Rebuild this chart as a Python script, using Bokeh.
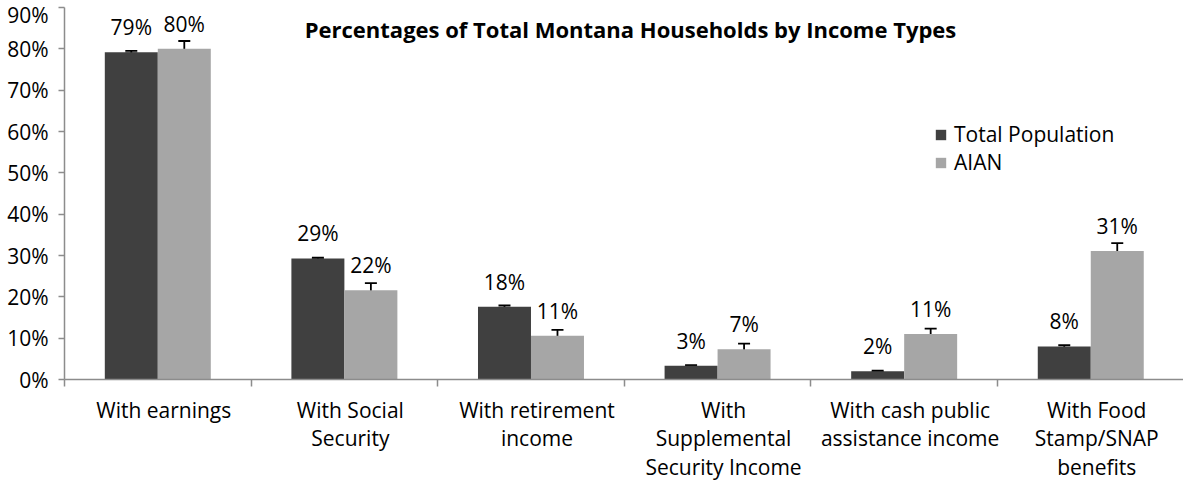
import numpy as np
from bokeh.plotting import figure
from bokeh.models import (ColumnDataSource, Range1d, FixedTicker, NumeralTickFormatter,
                          Whisker, TeeHead, Legend, LegendItem, Label, LinearAxis)
from bokeh.core.properties import value
from bokeh.embed import file_html
from bokeh.resources import INLINE

categories = ["With earnings", "With Social\nSecurity", "With retirement\nincome",
              "With\nSupplemental\nSecurity Income", "With cash public\nassistance income",
              "With Food\nStamp/SNAP\nbenefits"]
total_pop = [79.2, 29.3, 17.6, 3.3, 2.0, 8.0]
total_err = [0.3, 0.2, 0.3, 0.2, 0.15, 0.3]
aian = [80.0, 21.6, 10.6, 7.3, 11.0, 31.1]
aian_err = [1.9, 1.7, 1.4, 1.4, 1.3, 1.9]
y_ticks = [0, 10, 20, 30, 40, 50, 60, 70, 80, 90]

FONT = "Open Sans"
FS = "21px"
DARK = "#404040"
LIGHT = "#A6A6A6"
AXIS = "#8C8C8C"

n = len(categories)
centers = np.arange(n) + 0.5
bw = 0.284
XMAX = 5.997
LAB_SHIFT = 0.032  # category names sit a few px right of the group centre

def src(vals, errs, shift):
    v = np.array(vals) / 100.0
    e = np.array(errs) / 100.0
    return ColumnDataSource(dict(
        x=centers + shift, top=v, upper=v + e, lower=v - e,
        label=["%d%%" % int(round(a)) for a in vals]))

s_tot = src(total_pop, total_err, -bw / 2)
s_aian = src(aian, aian_err, bw / 2)

p = figure(width=1183, height=483, output_backend="svg", toolbar_location=None,
           x_range=Range1d(0, XMAX), y_range=Range1d(0, 0.9),
           min_border_left=64, min_border_right=0, min_border_top=7, min_border_bottom=104)
p.extra_x_ranges = {"lab": Range1d(-LAB_SHIFT, XMAX - LAB_SHIFT)}
p.outline_line_color = None
p.xgrid.visible = False
p.ygrid.visible = False
p.background_fill_color = "white"
p.border_fill_color = "white"

r1 = p.vbar(x="x", top="top", width=bw, source=s_tot, fill_color=DARK, line_color=None)
r2 = p.vbar(x="x", top="top", width=bw, source=s_aian, fill_color=LIGHT, line_color=None)

for s in (s_tot, s_aian):
    w = Whisker(base="x", upper="upper", lower="lower", source=s,
                line_color="black", line_width=1.8,
                upper_head=TeeHead(size=12, line_color="black", line_width=1.8),
                lower_head=TeeHead(size=12, line_color="black", line_width=1.8))
    p.add_layout(w)
    p.text(x="x", y="top", text="label", source=s, text_align="center",
           text_baseline="middle", y_offset=-25, text_font=value(FONT),
           text_font_size=FS, text_color="black")

# y axis
ya = p.yaxis[0]
ya.ticker = FixedTicker(ticks=[t / 100 for t in y_ticks], minor_ticks=[])
ya.formatter = NumeralTickFormatter(format="0%")
ya.axis_line_color = AXIS
ya.axis_line_width = 1.5
ya.major_tick_line_color = AXIS
ya.major_tick_line_width = 1.5
ya.major_tick_out = 6
ya.major_tick_in = 0
ya.minor_tick_line_color = None
ya.major_label_text_font = FONT
ya.major_label_text_font_size = FS
ya.major_label_text_color = "black"
ya.major_label_standoff = 10

# x axis: line + tick marks at the category boundaries
xa = p.xaxis[0]
xa.ticker = FixedTicker(ticks=list(centers), minor_ticks=list(range(n + 1)))
xa.major_label_overrides = {float(c): "" for c in centers}
xa.major_label_text_font_size = "1px"
xa.major_label_standoff = 0
xa.axis_line_color = AXIS
xa.axis_line_width = 1.5
xa.major_tick_line_color = None
xa.major_tick_out = 0
xa.major_tick_in = 0
xa.minor_tick_line_color = AXIS
xa.minor_tick_line_width = 1.5
xa.minor_tick_out = 7
xa.minor_tick_in = 0

# category names
la = LinearAxis(x_range_name="lab")
la.ticker = FixedTicker(ticks=list(centers), minor_ticks=[])
la.major_label_overrides = {float(c): lab for c, lab in zip(centers, categories)}
la.axis_line_color = None
la.major_tick_line_color = None
la.minor_tick_line_color = None
la.major_tick_out = 0
la.major_tick_in = 0
la.minor_tick_out = 0
la.minor_tick_in = 0
la.major_label_text_font = FONT
la.major_label_text_font_size = FS
la.major_label_text_color = "black"
la.major_label_text_line_height = 1.02
la.major_label_standoff = 9
p.add_layout(la, "below")

legend = Legend(items=[LegendItem(label="Total Population", renderers=[r1]),
                       LegendItem(label="AIAN", renderers=[r2])],
                location=(870, 203), orientation="vertical",
                glyph_width=13, glyph_height=13, label_standoff=7,
                label_height=26, spacing=-2, padding=0, margin=0,
                border_line_color=None, background_fill_alpha=0,
                label_text_font=FONT, label_text_font_size=FS,
                label_text_color="black")
p.add_layout(legend)

title = Label(x=566, y=351, x_units="screen", y_units="screen",
              text="Percentages of Total Montana Households by Income Types",
              text_align="center", text_baseline="middle", text_font=FONT,
              text_font_style="bold", text_font_size="22px", text_color="black")
p.add_layout(title)

open("out.html", "w").write(file_html(p, INLINE))
